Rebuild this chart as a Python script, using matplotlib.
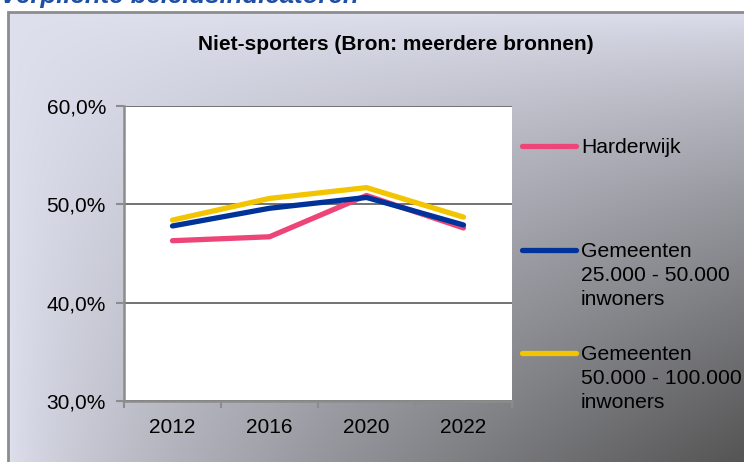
import numpy as np
import matplotlib.pyplot as plt
from matplotlib.patches import Rectangle

plt.rcParams['font.family'] = ['Liberation Sans', 'DejaVu Sans']

years = ['2012', '2016', '2020', '2022']
harderwijk = [46.3, 46.7, 50.9, 47.6]
gem_25_50 = [47.8, 49.6, 50.7, 47.9]
gem_50_100 = [48.4, 50.6, 51.7, 48.7]
series_names = ['Harderwijk', 'Gemeenten\n25.000 - 50.000\ninwoners',
                'Gemeenten\n50.000 - 100.000\ninwoners']
series_colors = ['#EE4579', '#003399', '#F2C500']
y_ticks = [30, 40, 50, 60]

W, H = 744, 462
fig = plt.figure(figsize=(W / 100, H / 100), dpi=100)

# gradient background of the chart frame
bg = fig.add_axes([8 / W, 0, 1 - 8 / W, 1 - 12 / H])
xn = np.linspace(0, 1, 300)[None, :]
yn = np.linspace(0, 1, 200)[:, None]
t = np.clip(xn * yn, 0, 1) ** 0.75
light = np.array([222, 224, 238]) / 255
dark = np.array([85, 85, 85]) / 255
img = light[None, None, :] * (1 - t[..., None]) + dark[None, None, :] * t[..., None]
bg.imshow(img, aspect='auto', extent=[0, 1, 0, 1], interpolation='bilinear')
bg.set_axis_off()
fig.patches.append(Rectangle((8 / W, -0.05), 1, 1 - 12 / H + 0.05, transform=fig.transFigure,
                             fill=False, edgecolor='#8c8c8c', lw=2))

# page heading, cut off at the top like in the original screenshot
fig.text(0, 1 - 3 / H, 'Verplichte beleidsindicatoren', fontsize=18.5, fontweight='bold',
         fontstyle='italic', color='#1F4FA5', ha='left', va='baseline')

ax = fig.add_axes([124 / W, 1 - 401 / H, (512 - 124) / W, (401 - 106) / H])
ax.set_facecolor('white')
x = np.arange(len(years))
for vals, c in zip([harderwijk, gem_25_50, gem_50_100], series_colors):
    ax.plot(x, vals, color=c, lw=3.8, solid_capstyle='round', solid_joinstyle='round')

ax.set_xlim(-0.5, len(years) - 0.5)
ax.set_ylim(30, 60)
ax.set_yticks(y_ticks)
ax.set_yticklabels([f'{v:.1f}%'.replace('.', ',') for v in y_ticks], fontsize=15)
ax.set_xticks(x)
ax.set_xticklabels(years, fontsize=15)
ax.set_xticks(np.arange(-0.5, len(years)), minor=True)
ax.tick_params(axis='x', which='major', length=0, pad=12)
ax.tick_params(axis='x', which='minor', length=5, color='#8c8c8c', width=1.5)
ax.tick_params(axis='y', length=6, color='#8c8c8c', width=1.5, pad=7)
ax.grid(axis='y', color='#5a5a5a', lw=1.2)
ax.set_axisbelow(True)
for s in ['top', 'right']:
    ax.spines[s].set_visible(False)
for s in ['left', 'bottom']:
    ax.spines[s].set_color('#8c8c8c')
    ax.spines[s].set_linewidth(1.8)

fig.text(396 / W, 1 - 45 / H, 'Niet-sporters (Bron: meerdere bronnen)', fontsize=15,
         fontweight='bold', ha='center', va='center')

# legend at right
leg_y = [146, 250, 353]
for name, c, yy in zip(series_names, series_colors, leg_y):
    fy = 1 - yy / H
    fig.add_artist(plt.Line2D([522 / W, 576 / W], [fy, fy], color=c, lw=3.8,
                              solid_capstyle='round', transform=fig.transFigure))
    fig.text(581 / W, fy + 8 / H, name, fontsize=15.2, ha='left', va='top',
             linespacing=1.32)

fig.savefig('out.png', dpi=100)
